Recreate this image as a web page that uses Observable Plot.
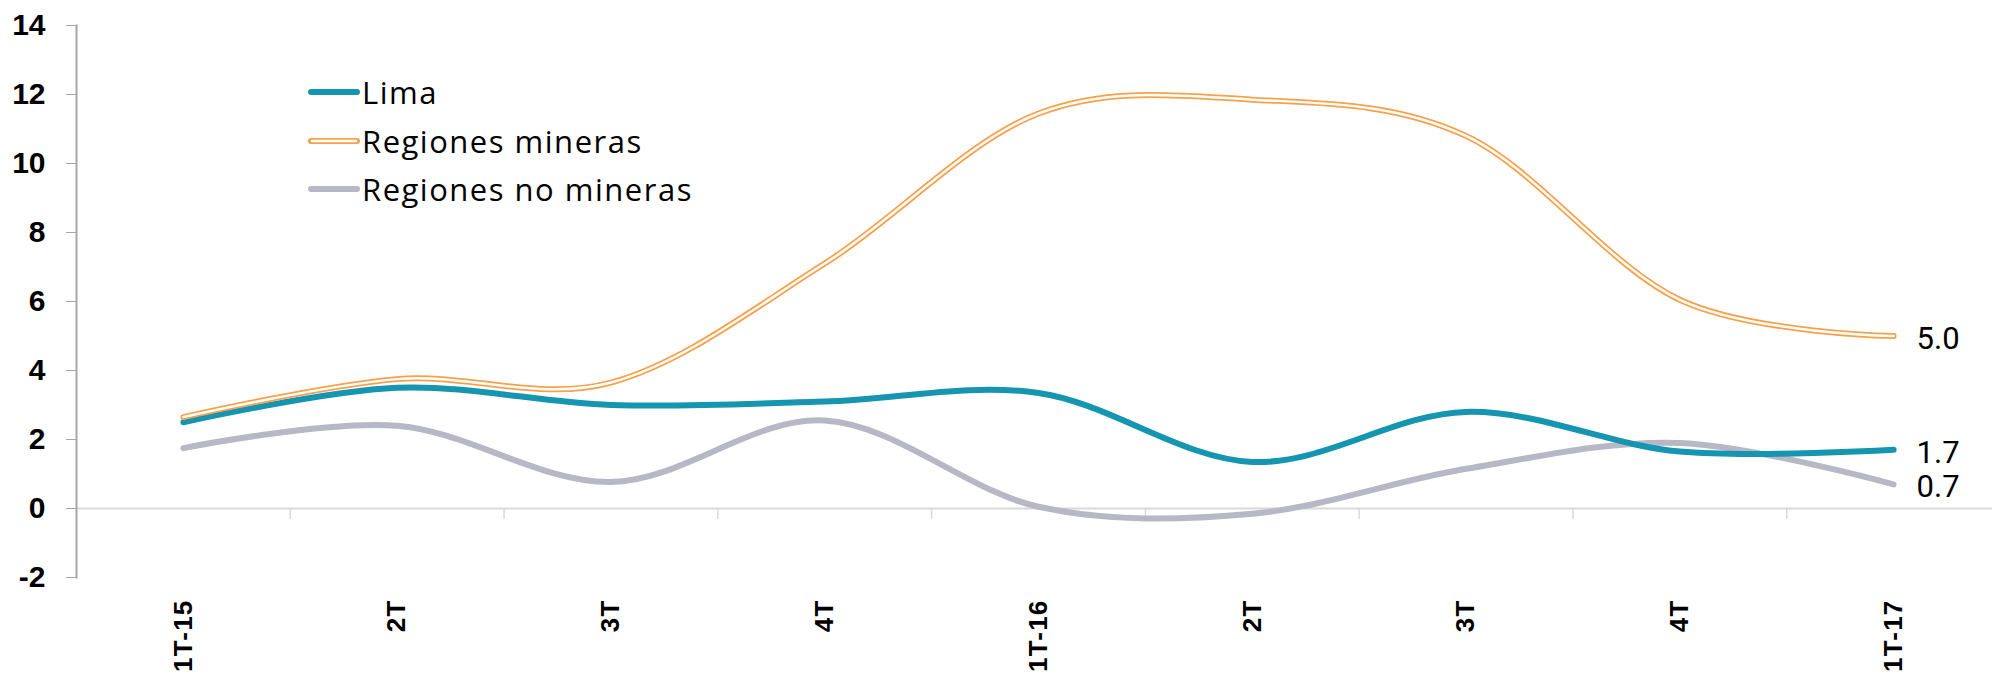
<!DOCTYPE html>
<html><head><meta charset="utf-8">
<script src="https://cdn.jsdelivr.net/npm/d3@7"></script>
<script src="https://cdn.jsdelivr.net/npm/@observablehq/plot@0.6"></script>
<style>
body{margin:0;background:#fff;}
#wrap{position:relative;width:1992px;height:679px;}
#legend{position:absolute;left:306px;top:68px;font-family:"Open Sans",sans-serif;font-size:31px;letter-spacing:1.5px;color:#000;}
#legend .row{display:flex;align-items:center;height:48.5px;}
#legend svg{margin-right:1px;}
</style></head><body><div id="wrap"><div id="chart"></div><div id="legend"></div></div>
<script>
const categories = ["1T-15","2T","3T","4T","1T-16","2T","3T","4T","1T-17"];
const lima = [2.5, 3.5, 3.0, 3.1, 3.35, 1.35, 2.8, 1.65, 1.7];
const mineras = [2.65, 3.75, 3.65, 7.1, 11.45, 11.85, 10.8, 6.05, 5.0];
const noMineras = [1.75, 2.4, 0.77, 2.55, 0.05, -0.15, 1.15, 1.9, 0.7];
const seriesNames = ["Lima", "Regiones mineras", "Regiones no mineras"];
const seriesColors = ["#1595B0", "#F8A04A", "#B7B7C5"];
const yTicks = [-2, 0, 2, 4, 6, 8, 10, 12, 14];

const idx = categories.map((_, i) => i);
const rows = (vals, name) => vals.map((v, i) => ({i, v, name}));
const dLima = rows(lima, seriesNames[0]);
const dMin = rows(mineras, seriesNames[1]);
const dNo = rows(noMineras, seriesNames[2]);
const lastRows = [dMin, dLima, dNo].map(d => d[d.length - 1]);
const bounds = idx.slice(1).map(i => i - 0.5);
const curveOpts = {curve: "cardinal", tension: 0};

const chart = Plot.plot({
  width: 1992,
  height: 679,
  marginTop: 25,
  marginBottom: 102,
  marginLeft: 76,
  marginRight: 0,
  x: {domain: [-0.5, categories.length - 0.5], range: [76, 2000]},
  y: {domain: [-2, 14]},
  style: {background: "#fff"},
  marks: [
    Plot.ruleY([0], {stroke: "#D9D9D9", strokeWidth: 2}),
    Plot.ruleX(bounds, {y1: 0, y2: 0, insetBottom: -11, stroke: "#D9D9D9", strokeWidth: 1.5}),
    Plot.frame({anchor: "left", stroke: "#A6A6A6", strokeWidth: 2}),
    Plot.axisY({ticks: yTicks, tickSize: 10, tickPadding: 21, stroke: "#A6A6A6", fontSize: 30, fontWeight: "bold", fontFamily: "Liberation Sans", label: null, tickFormat: d => d < 0 ? "-" + Math.abs(d) : String(d)}),
    Plot.axisX({ticks: idx, tickFormat: i => categories[i], tickSize: 0, tickPadding: 22, tickRotate: -90, fontSize: 26, fontWeight: "bold", fontFamily: "Liberation Sans", label: null}),
    Plot.line(dNo, {x: "i", y: "v", stroke: seriesColors[2], strokeWidth: 6, ...curveOpts}),
    Plot.line(dLima, {x: "i", y: "v", stroke: seriesColors[0], strokeWidth: 6, ...curveOpts}),
    Plot.line(dMin, {x: "i", y: "v", stroke: seriesColors[1], strokeWidth: 6, ...curveOpts}),
    Plot.line(dMin, {x: "i", y: "v", stroke: "#fff", strokeWidth: 2.5, ...curveOpts}),
    Plot.text(lastRows, {x: "i", y: "v", text: d => d.v.toFixed(1), dx: 23, dy: 3, textAnchor: "start", fontSize: 31, fontFamily: "Roboto", fill: "#000"})
  ]
});
d3.select(chart).selectAll('g[aria-label="x-axis tick label"] text').attr("letter-spacing", "1.2px");
document.getElementById("chart").appendChild(chart);

const legend = document.getElementById("legend");
seriesNames.forEach((name, k) => {
  const row = document.createElement("div");
  row.className = "row";
  const double = k === 1;
  row.innerHTML = `<svg width="55" height="10"><line x1="5" x2="51" y1="5" y2="5" stroke="${seriesColors[k]}" stroke-width="6" stroke-linecap="round"/>` +
    (double ? `<line x1="5" x2="51" y1="5" y2="5" stroke="#fff" stroke-width="2.5"/>` : "") + `</svg><span>${name}</span>`;
  legend.appendChild(row);
});
</script>
</body></html>
